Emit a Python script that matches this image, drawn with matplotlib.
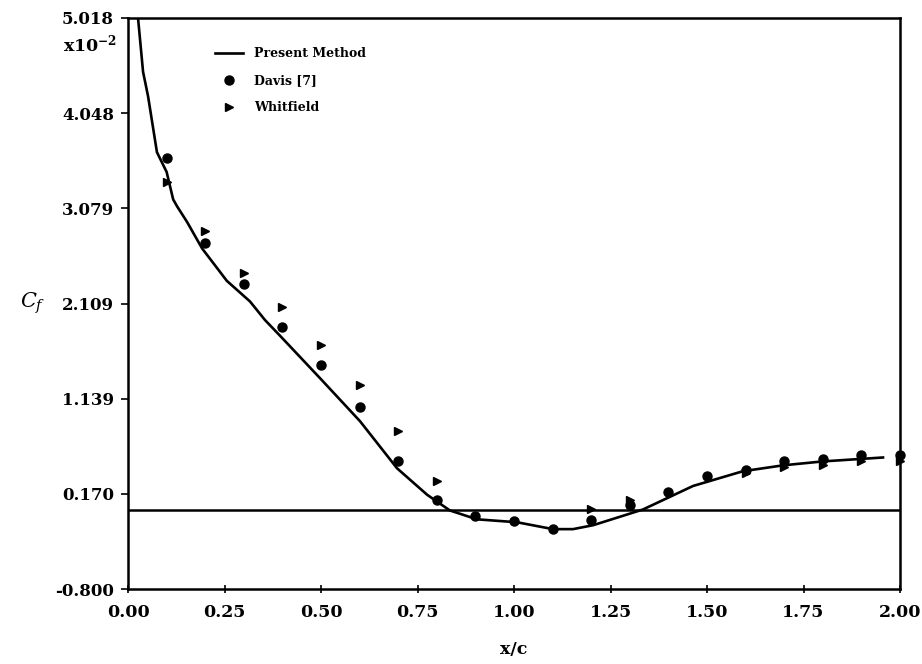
import matplotlib
matplotlib.use("Agg")
import matplotlib.pyplot as plt

# Present method curve
curve_x = [0.026, 0.039, 0.052, 0.075, 0.100, 0.117, 0.127, 0.153, 0.192, 0.256,
           0.316, 0.355, 0.394, 0.497, 0.601, 0.697, 0.775, 0.834, 0.904, 1.008,
           1.101, 1.153, 1.205, 1.334, 1.464, 1.593, 1.697, 1.800, 1.956]
curve_y = [5.018, 4.47, 4.22, 3.65, 3.45, 3.17, 3.10, 2.94, 2.67, 2.34,
           2.13, 1.94, 1.78, 1.35, 0.91, 0.43, 0.16, 0.00, -0.09, -0.12,
           -0.19, -0.19, -0.15, 0.01, 0.25, 0.40, 0.46, 0.50, 0.54]

# Davis [7]
davis_x = [0.1, 0.2, 0.3, 0.4, 0.5, 0.6, 0.7, 0.8, 0.9, 1.0, 1.1, 1.2, 1.3, 1.4,
           1.5, 1.6, 1.7, 1.8, 1.9, 2.0]
davis_y = [3.59, 2.73, 2.31, 1.87, 1.48, 1.05, 0.50, 0.11, -0.06, -0.11, -0.19,
           -0.10, 0.06, 0.19, 0.35, 0.41, 0.50, 0.52, 0.57, 0.57]

# Whitfield
whit_x = [0.1, 0.2, 0.3, 0.4, 0.5, 0.6, 0.7, 0.8, 1.2, 1.3, 1.6, 1.7, 1.8, 1.9, 2.0]
whit_y = [3.35, 2.85, 2.42, 2.07, 1.69, 1.28, 0.81, 0.30, 0.02, 0.11, 0.38,
          0.44, 0.46, 0.50, 0.50]

yticks = [-0.800, 0.170, 1.139, 2.109, 3.079, 4.048, 5.018]
ytick_labels = ["-0.800", "0.170", "1.139", "2.109", "3.079", "4.048", "5.018"]
xticks = [0.0, 0.25, 0.5, 0.75, 1.0, 1.25, 1.5, 1.75, 2.0]
xtick_labels = ["0.00", "0.25", "0.50", "0.75", "1.00", "1.25", "1.50", "1.75", "2.00"]

FONT = "DejaVu Serif"
plt.rcParams["font.family"] = [FONT]
plt.rcParams["mathtext.fontset"] = "dejavuserif"

fig = plt.figure(figsize=(9.22, 6.64), dpi=100)
ax = fig.add_axes([128 / 922, 1 - 589 / 664, (900 - 128) / 922, (589 - 18) / 664])

ax.axhline(0.0, color="black", lw=1.8, zorder=1)
ax.plot(curve_x, curve_y, color="black", lw=1.9, label="Present Method", zorder=3)
ax.plot(davis_x, davis_y, "o", color="black", ms=6.5, label="Davis [7]", zorder=4,
        clip_on=False)
ax.plot(whit_x, whit_y, ">", color="black", ms=6, label="Whitfield", zorder=4,
        clip_on=False)

ax.set_xlim(0, 2.0)
ax.set_ylim(-0.800, 5.018)
ax.set_xticks(xticks)
ax.set_xticklabels(xtick_labels)
ax.set_yticks(yticks)
ax.set_yticklabels(ytick_labels)
for lab in ax.get_xticklabels():
    lab.set_fontweight("bold")
    lab.set_fontsize(12.5)
for lab in ax.get_yticklabels():
    lab.set_fontweight("bold")
    lab.set_fontsize(12)
ax.tick_params(axis="x", direction="inout", length=6, width=1.2, pad=8)
ax.tick_params(axis="y", direction="out", length=5, width=1.2, pad=5)
for s in ax.spines.values():
    s.set_linewidth(1.8)

ax.set_xlabel("x/c", fontsize=12.5, fontweight="bold", labelpad=14)
fig.text(33 / 922, 1 - 303 / 664, r"$C_f$", fontsize=15, ha="center", va="center")
fig.text(117 / 922, 1 - 44 / 664, r"x10$^{\mathbf{-2}}$", fontsize=12.5,
         fontweight="bold", ha="right", va="center")

leg = ax.legend(loc="upper left", bbox_to_anchor=(82 / 772, 1 - 24 / 571),
                frameon=False, fontsize=9, handlelength=2.2, handletextpad=0.9,
                labelspacing=1.12, borderaxespad=0)
for t in leg.get_texts():
    t.set_fontweight("bold")

fig.savefig("out.png", dpi=100)
